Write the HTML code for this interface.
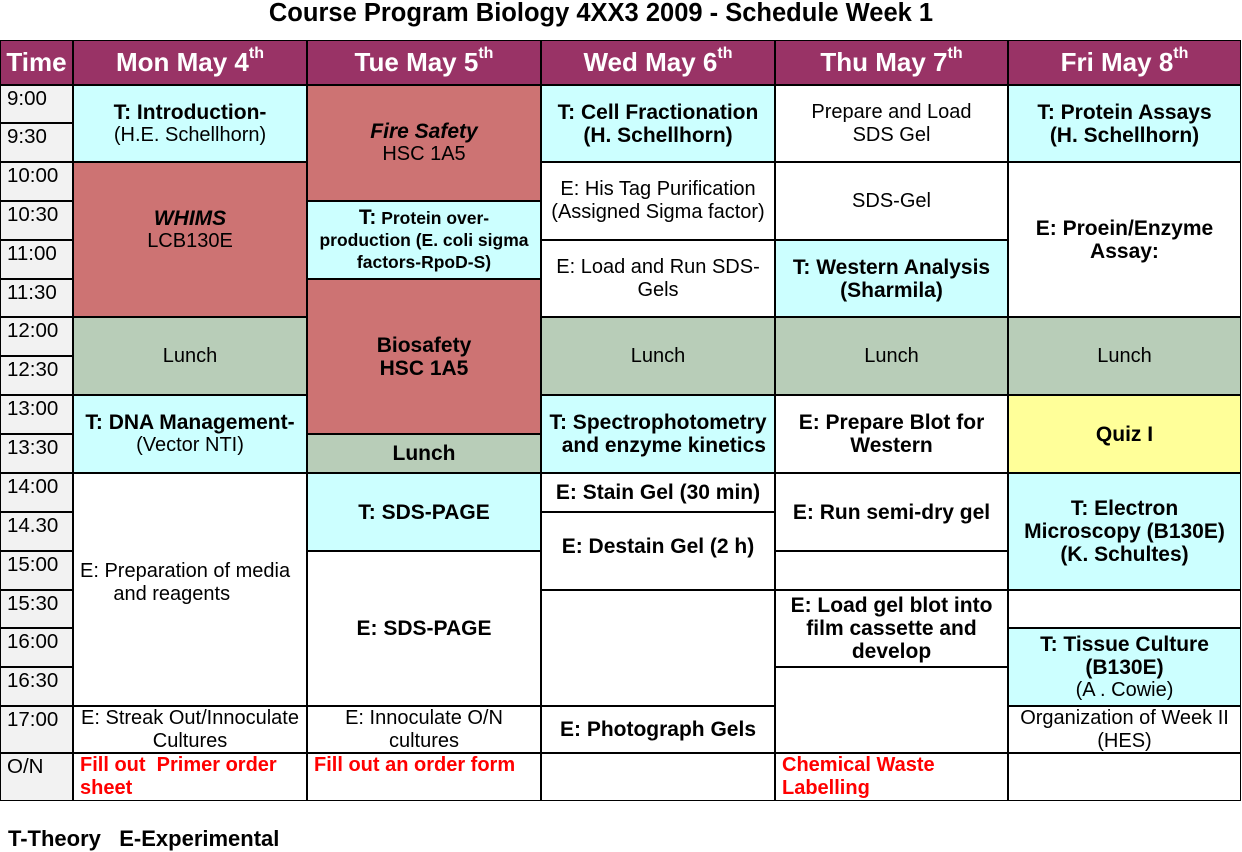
<!DOCTYPE html>
<html><head><meta charset="utf-8"><style>
body{margin:0;width:1242px;height:851px;background:#fff;position:relative;overflow:hidden;font-family:"Liberation Sans",Arial,sans-serif;color:#000}
.c{position:absolute;box-sizing:border-box;border:1px solid #000;display:flex;flex-direction:column;align-items:center;justify-content:center;text-align:center;font-size:20px;line-height:23px;padding:0 3px}
.h{background:#993366;color:#fff;font-weight:bold;font-size:26px;top:40px;height:45px}
.h sup{font-size:16px;line-height:0;position:relative;top:-3px;vertical-align:super}
.t{background:#f2f2f2;font-size:20.5px;align-items:flex-start;justify-content:flex-start;padding:0 0 0 6px;line-height:25px}
.cy{background:#ccffff}.rd{background:#cd7373}.gr{background:#b8cdb8}.ye{background:#ffff99}
b{font-size:21px}
.red{color:#ff0000;font-weight:bold;align-items:flex-start;justify-content:flex-start;text-align:left;padding:0 0 0 6px}
</style></head><body>
<div style="position:absolute;left:0;width:1202px;top:-1px;text-align:center;font-weight:bold;font-size:25.5px;line-height:28px">Course Program Biology 4XX3 2009 - Schedule Week 1</div>

<div class="c h" style="left:0;width:73px">Time</div>
<div class="c h" style="left:73px;width:234px"><span>Mon May 4<sup>th</sup></span></div>
<div class="c h" style="left:307px;width:234px"><span>Tue May 5<sup>th</sup></span></div>
<div class="c h" style="left:541px;width:234px"><span>Wed May 6<sup>th</sup></span></div>
<div class="c h" style="left:775px;width:233px"><span>Thu May 7<sup>th</sup></span></div>
<div class="c h" style="left:1008px;width:233px"><span>Fri May 8<sup>th</sup></span></div>

<div class="c t" style="left:0;width:73px;top:85px;height:38px">9:00</div>
<div class="c t" style="left:0;width:73px;top:123px;height:39px">9:30</div>
<div class="c t" style="left:0;width:73px;top:162px;height:39px">10:00</div>
<div class="c t" style="left:0;width:73px;top:201px;height:39px">10:30</div>
<div class="c t" style="left:0;width:73px;top:240px;height:39px">11:00</div>
<div class="c t" style="left:0;width:73px;top:279px;height:38px">11:30</div>
<div class="c t" style="left:0;width:73px;top:317px;height:39px">12:00</div>
<div class="c t" style="left:0;width:73px;top:356px;height:39px">12:30</div>
<div class="c t" style="left:0;width:73px;top:395px;height:39px">13:00</div>
<div class="c t" style="left:0;width:73px;top:434px;height:39px">13:30</div>
<div class="c t" style="left:0;width:73px;top:473px;height:39px">14:00</div>
<div class="c t" style="left:0;width:73px;top:512px;height:39px">14.30</div>
<div class="c t" style="left:0;width:73px;top:551px;height:39px">15:00</div>
<div class="c t" style="left:0;width:73px;top:590px;height:38px">15:30</div>
<div class="c t" style="left:0;width:73px;top:628px;height:39px">16:00</div>
<div class="c t" style="left:0;width:73px;top:667px;height:39px">16:30</div>
<div class="c t" style="left:0;width:73px;top:706px;height:47px">17:00</div>
<div class="c t" style="left:0;width:73px;top:753px;height:48px">O/N</div>

<!-- Mon -->
<div class="c cy" style="left:73px;width:234px;top:85px;height:77px"><b>T: Introduction-</b>(H.E. Schellhorn)</div>
<div class="c rd" style="left:73px;width:234px;top:162px;height:155px;padding-bottom:20px"><b><i>WHIMS</i></b>LCB130E</div>
<div class="c gr" style="left:73px;width:234px;top:317px;height:78px">Lunch</div>
<div class="c cy" style="left:73px;width:234px;top:395px;height:78px"><b>T: DNA Management-</b>(Vector NTI)</div>
<div class="c" style="left:73px;width:234px;top:473px;height:233px;padding:0 0 14px 6px;align-items:flex-start;text-align:left">E: Preparation of media<br>&nbsp;&nbsp;&nbsp;&nbsp;&nbsp;&nbsp;and reagents</div>
<div class="c" style="left:73px;width:234px;top:706px;height:47px">E: Streak Out/Innoculate Cultures</div>
<div class="c red" style="left:73px;width:234px;top:753px;height:48px"><span>Fill out&nbsp; Primer order<br>sheet</span></div>

<!-- Tue -->
<div class="c rd" style="left:307px;width:234px;top:85px;height:116px"><b><i>Fire Safety</i></b>HSC 1A5</div>
<div class="c cy" style="left:307px;width:234px;top:201px;height:78px;font-weight:bold;font-size:17.5px;line-height:22px"><span><span style="font-size:21px">T:</span> Protein over-<br>production (E. coli sigma<br>factors-RpoD-S)</span></div>
<div class="c rd" style="left:307px;width:234px;top:279px;height:155px"><b>Biosafety<br>HSC 1A5</b></div>
<div class="c gr" style="left:307px;width:234px;top:434px;height:39px"><b>Lunch</b></div>
<div class="c cy" style="left:307px;width:234px;top:473px;height:78px"><b>T: SDS-PAGE</b></div>
<div class="c" style="left:307px;width:234px;top:551px;height:155px"><b>E: SDS-PAGE</b></div>
<div class="c" style="left:307px;width:234px;top:706px;height:47px">E: Innoculate O/N cultures</div>
<div class="c red" style="left:307px;width:234px;top:753px;height:48px"><span>Fill out an order form</span></div>

<!-- Wed -->
<div class="c cy" style="left:541px;width:234px;top:85px;height:77px"><b>T: Cell Fractionation<br>(H. Schellhorn)</b></div>
<div class="c" style="left:541px;width:234px;top:162px;height:78px">E: His Tag Purification (Assigned Sigma factor)</div>
<div class="c" style="left:541px;width:234px;top:240px;height:77px">E: Load and Run SDS-Gels</div>
<div class="c gr" style="left:541px;width:234px;top:317px;height:78px">Lunch</div>
<div class="c cy" style="left:541px;width:234px;top:395px;height:78px"><b>T: Spectrophotometry<br>&nbsp;&nbsp;and enzyme kinetics</b></div>
<div class="c" style="left:541px;width:234px;top:473px;height:39px"><b>E: Stain Gel (30 min)</b></div>
<div class="c" style="left:541px;width:234px;top:512px;height:78px;padding-bottom:10px"><b>E: Destain Gel (2 h)</b></div>
<div class="c" style="left:541px;width:234px;top:590px;height:116px"></div>
<div class="c" style="left:541px;width:234px;top:706px;height:47px"><b>E: Photograph Gels</b></div>
<div class="c" style="left:541px;width:234px;top:753px;height:48px"></div>

<!-- Thu -->
<div class="c" style="left:775px;width:233px;top:85px;height:77px">Prepare and Load<br>SDS Gel</div>
<div class="c" style="left:775px;width:233px;top:162px;height:78px">SDS-Gel</div>
<div class="c cy" style="left:775px;width:233px;top:240px;height:77px"><b>T: Western Analysis<br>(Sharmila)</b></div>
<div class="c gr" style="left:775px;width:233px;top:317px;height:78px">Lunch</div>
<div class="c" style="left:775px;width:233px;top:395px;height:78px"><b>E: Prepare Blot for<br>Western</b></div>
<div class="c" style="left:775px;width:233px;top:473px;height:78px"><b>E: Run semi-dry gel</b></div>
<div class="c" style="left:775px;width:233px;top:551px;height:39px"></div>
<div class="c" style="left:775px;width:233px;top:590px;height:77px"><b>E: Load gel blot into<br>film cassette and<br>develop</b></div>
<div class="c" style="left:775px;width:233px;top:667px;height:86px"></div>
<div class="c red" style="left:775px;width:233px;top:753px;height:48px"><span>Chemical Waste<br>Labelling</span></div>

<!-- Fri -->
<div class="c cy" style="left:1008px;width:233px;top:85px;height:77px"><b>T: Protein Assays<br>(H. Schellhorn)</b></div>
<div class="c" style="left:1008px;width:233px;top:162px;height:155px"><b>E: Proein/Enzyme<br>Assay:</b></div>
<div class="c gr" style="left:1008px;width:233px;top:317px;height:78px">Lunch</div>
<div class="c ye" style="left:1008px;width:233px;top:395px;height:78px"><b>Quiz I</b></div>
<div class="c cy" style="left:1008px;width:233px;top:473px;height:117px"><b>T: Electron<br>Microscopy (B130E)<br>(K. Schultes)</b></div>
<div class="c" style="left:1008px;width:233px;top:590px;height:38px"></div>
<div class="c cy" style="left:1008px;width:233px;top:628px;height:78px"><b>T: Tissue Culture<br>(B130E)</b>(A . Cowie)</div>
<div class="c" style="left:1008px;width:233px;top:706px;height:47px">Organization of Week II (HES)</div>
<div class="c" style="left:1008px;width:233px;top:753px;height:48px"></div>

<div style="position:absolute;left:8px;top:826px;font-weight:bold;font-size:22px;line-height:26px;white-space:pre">T-Theory   E-Experimental</div>
</body></html>
